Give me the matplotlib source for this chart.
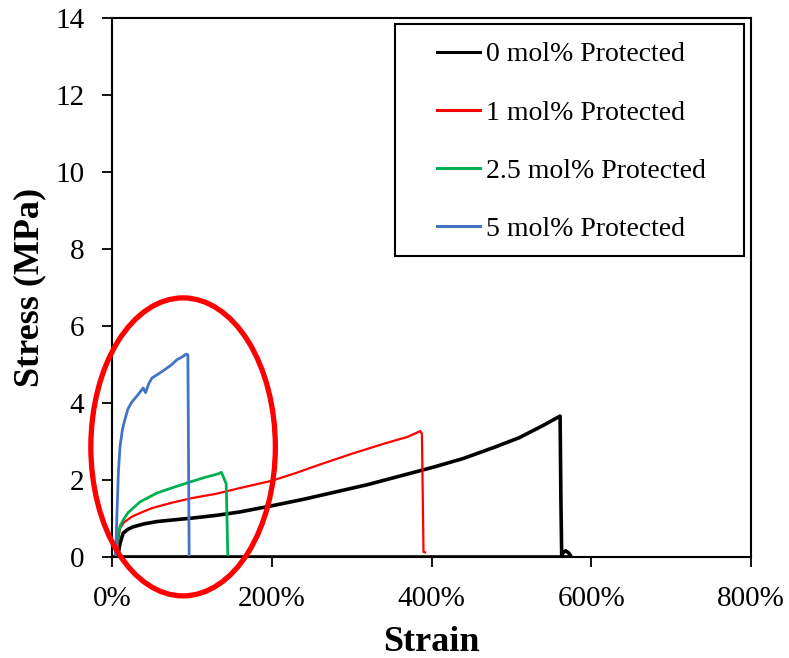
import matplotlib
matplotlib.use("Agg")
import matplotlib.pyplot as plt
from matplotlib.patches import Ellipse, Rectangle
from matplotlib.ticker import PercentFormatter, MultipleLocator

plt.rcParams['font.family'] = ['Liberation Serif', 'DejaVu Serif']

# Strain as fraction (1.0 = 100%), stress in MPa
black_x = [0.00, 5.75, 5.72, 5.68, 5.65, 5.63, 5.62, 5.61, 5.40, 5.10, 4.80, 4.40, 4.00,
           3.60, 3.20, 2.80, 2.40, 2.00, 1.60, 1.30, 1.00, 0.80, 0.56, 0.40,
           0.26, 0.20, 0.14, 0.10, 0.07]
black_y = [0.00, 0.00, 0.10, 0.16, 0.12, 0.05, 1.50, 3.66, 3.42, 3.10, 2.86, 2.56, 2.32,
           2.10, 1.88, 1.69, 1.50, 1.33, 1.17, 1.08, 1.01, 0.97, 0.92, 0.86,
           0.78, 0.72, 0.62, 0.35, 0.00]
black_x = black_x[::-1]
black_y = black_y[::-1]

red_x = [0.06, 0.08, 0.10, 0.15, 0.25, 0.35, 0.50, 0.75, 1.00, 1.30, 1.60, 2.00,
         2.30, 2.60, 3.00, 3.40, 3.70, 3.86, 3.88, 3.90, 3.92]
red_y = [0.00, 0.45, 0.75, 0.90, 1.05, 1.14, 1.27, 1.41, 1.53, 1.64, 1.79, 1.98,
         2.18, 2.40, 2.68, 2.94, 3.12, 3.27, 3.20, 0.13, 0.12]

green_x = [0.05, 0.07, 0.10, 0.14, 0.20, 0.35, 0.56, 0.80, 0.98, 1.15, 1.33,
           1.37, 1.41, 1.43, 1.45]
green_y = [0.00, 0.50, 0.80, 0.96, 1.15, 1.43, 1.66, 1.83, 1.95, 2.06, 2.16,
           2.20, 2.00, 1.90, 0.00]

blue_x = [0.04, 0.05, 0.06, 0.08, 0.10, 0.13, 0.16, 0.20, 0.25, 0.32, 0.39,
          0.42, 0.46, 0.50, 0.60, 0.69, 0.75, 0.81, 0.88, 0.93, 0.95, 0.966]
blue_y = [0.00, 0.30, 1.00, 2.20, 2.86, 3.30, 3.56, 3.85, 4.03, 4.20, 4.39,
          4.27, 4.50, 4.65, 4.78, 4.91, 5.00, 5.12, 5.20, 5.27, 5.25, 0.00]

labels = ["0 mol% Protected", "1 mol% Protected", "2.5 mol% Protected", "5 mol% Protected"]
colors = ["#000000", "#FF0000", "#00B050", "#4472C4"]

W, H = 789, 658
fig = plt.figure(figsize=(W / 100, H / 100), dpi=100)
ax = fig.add_axes([112 / W, 1 - 557 / H, (751 - 112) / W, (557 - 18) / H])

l0, = ax.plot(black_x, black_y, color=colors[0], lw=2.6, solid_joinstyle='round')
l1, = ax.plot(red_x, red_y, color=colors[1], lw=1.6)
l2, = ax.plot(green_x, green_y, color=colors[2], lw=2.0)
l3, = ax.plot(blue_x, blue_y, color=colors[3], lw=2.0)

ax.set_xlim(0, 8)
ax.set_ylim(0, 14)
ax.xaxis.set_major_locator(MultipleLocator(2))
ax.yaxis.set_major_locator(MultipleLocator(2))
ax.xaxis.set_major_formatter(PercentFormatter(xmax=1, decimals=0))
ax.tick_params(axis='both', direction='out', length=7, width=1.3, labelsize=21)
ax.tick_params(axis='x', pad=14)
ax.tick_params(axis='y', pad=13)
for s in ax.spines.values():
    s.set_linewidth(1.5)

ax.set_xlabel("Strain", fontsize=26, fontweight='bold', labelpad=10)
ax.set_ylabel("Stress (MPa)", fontsize=26, fontweight='bold', labelpad=6)

# annotation ellipse
ell = Ellipse((0.89, 2.86), 2.31, 7.74, fill=False, edgecolor="#FF0000", lw=3.8,
              clip_on=False, zorder=10)
ax.add_patch(ell)

# legend
leg = fig.legend([l0, l1, l2, l3], labels, loc='upper left',
                 bbox_to_anchor=(437 / W, 1 - 42 / H), frameon=False,
                 fontsize=20, handlelength=1.55, handletextpad=0.2,
                 labelspacing=1.18, borderpad=0, borderaxespad=0)
for h in leg.get_lines():
    h.set_linewidth(2.2)
fig.add_artist(Rectangle((395 / W, 1 - 256 / H), (744 - 395) / W, (256 - 24) / H,
                         transform=fig.transFigure, fill=True, facecolor='white',
                         edgecolor='black', lw=1.5, zorder=1))
leg.set_zorder(5)

fig.savefig("out.png", dpi=100)
